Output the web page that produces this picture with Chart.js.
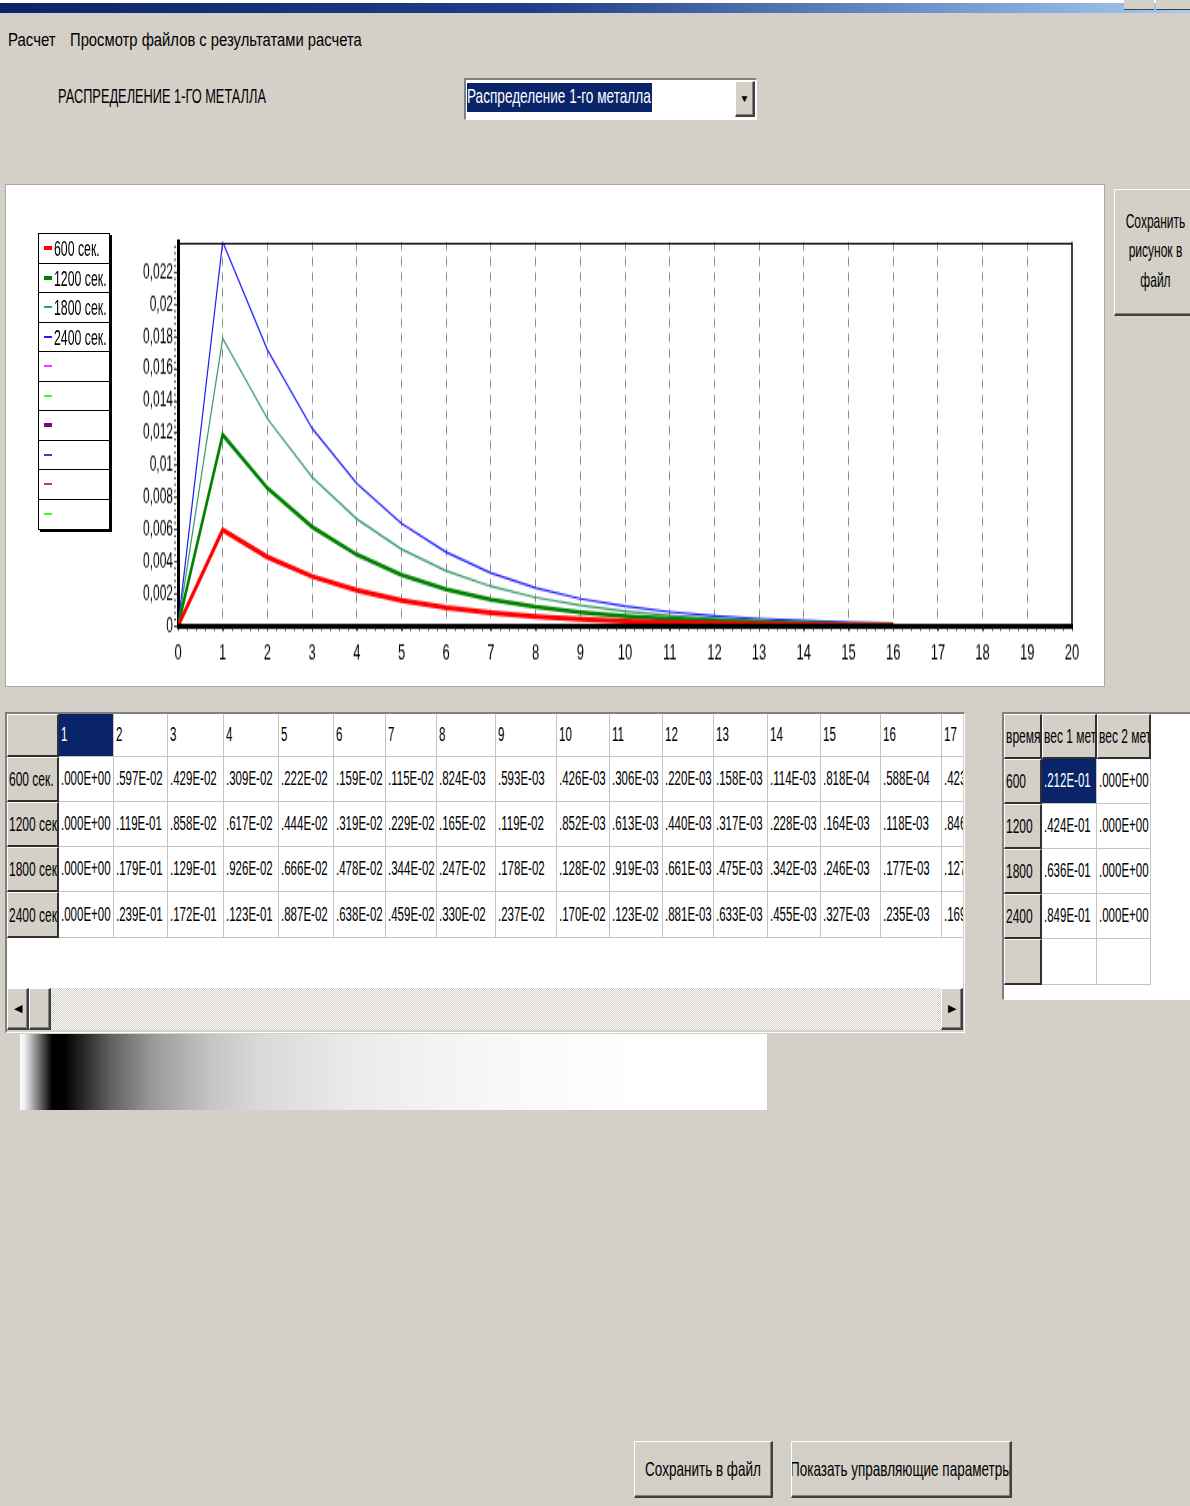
<!DOCTYPE html>
<html lang="ru">
<head>
<meta charset="utf-8">
<title>Распределение 1-го металла</title>
<script src="https://cdn.jsdelivr.net/npm/chart.js@4.4.1/dist/chart.umd.min.js"></script>
<style>
  html, body { margin: 0; padding: 0; }
  body {
    width: 1190px; height: 1506px; position: relative; overflow: hidden;
    background: #D4D0C8; color: #000;
    font-family: "Liberation Sans", Arial, sans-serif;
  }
  .abs { position: absolute; box-sizing: border-box; }
  .txt { position: absolute; white-space: nowrap; height: 20px; line-height: 20px; transform-origin: 0 50%; }
  .btn {
    position: absolute; box-sizing: border-box; background: #D4D0C8; overflow: hidden;
    border-style: solid; border-width: 1px 2px 2px 1px;
    border-color: #fff #404040 #404040 #fff;
    box-shadow: inset -1px -1px #808080;
    display: flex; align-items: center; justify-content: center; white-space: nowrap;
  }
  .sunken {
    position: absolute; box-sizing: border-box;
    border-style: solid; border-width: 2px 1px 1px 2px;
    border-color: #808080 #fff #fff #808080;
  }
  .cell {
    position: absolute; box-sizing: border-box; overflow: hidden; white-space: nowrap;
    background: #fff; border-right: 1px solid #c4c4c4; border-bottom: 1px solid #c4c4c4;
    padding-left: 2px; font-size: 11.5px;
  }
  .cell.fixed {
    background: #D4D0C8; border-style: solid; border-width: 1px 2px 2px 1px;
    border-color: #fff #303030 #303030 #fff; font-size: 12px; padding-left: 1px;
  }
  .cell.sel { background: #0A246A; color: #fff; }
  .cell span { display: inline-block; transform: scaleY(1.75); }
  #legend { left: 38px; top: 233px; width: 72px; background: #fff; border: 1px solid #000; box-shadow: 2px 2px 0 #000; }
  #legend .row { position: relative; height: 29.5px; box-sizing: border-box; border-bottom: 1px solid #000; }
  #legend .row:last-child { border-bottom: none; }
  #legend .sw { position: absolute; left: 5px; width: 8px; }
  #legend .lbl { position: absolute; left: 15px; top: 5px; font-size: 12.3px; line-height: 20px; white-space: nowrap; transform: scaleY(1.75); transform-origin: 0 50%; }
</style>
</head>
<body>

<!-- window caption -->
<div class="abs" style="left:0;top:0;width:1190px;height:3px;background:#fff"></div>
<div class="abs" style="left:0;top:3px;width:1190px;height:10px;background:linear-gradient(to right,#0A246A 0%,#1f3f88 45%,#7fa6d8 85%,#A6CAF0 100%)"></div>
<div class="abs" style="left:1124px;top:0;width:30px;height:10px;background:#D4D0C8;border-bottom:1px solid #404040"></div>
<div class="abs" style="left:1156px;top:0;width:34px;height:10px;background:#D4D0C8;border-bottom:1px solid #404040"></div>

<!-- menu -->
<div class="txt" style="left:8px;top:30px;font-size:15px;transform:scaleY(1.25)">Расчет</div>
<div class="txt" style="left:70px;top:30px;font-size:14.8px;transform:scaleY(1.27)">Просмотр файлов с результатами расчета</div>

<div class="txt" style="left:58px;top:86px;font-size:12.8px;transform:scaleY(1.65)">РАСПРЕДЕЛЕНИЕ 1-ГО МЕТАЛЛА</div>

<!-- combo box -->
<div class="sunken" style="left:464px;top:78px;width:293px;height:42px;background:#fff"></div>
<div class="abs" style="left:467px;top:83px;width:185px;height:29px;background:#0A246A"></div>
<div class="txt" style="left:467px;top:87px;font-size:13.6px;color:#fff;transform:scaleY(1.55)">Распределение 1-го металла</div>
<div class="btn" style="left:735px;top:81px;width:20px;height:36px;font-size:10px">&#9660;</div>

<!-- chart panel -->
<div class="abs" style="left:5px;top:184px;width:1100px;height:503px;background:#fff;border:1px solid #a8a8a8"></div>
<div id="plotBox" class="abs" style="left:6px;top:185px;width:1097px;height:294px;transform:scaleY(1.7007);transform-origin:0 0">
  <canvas id="plot"></canvas>
</div>
<div id="legend" class="abs"></div>

<div class="btn" style="left:1114px;top:189px;width:84px;height:127px;flex-direction:column;font-size:12px;line-height:29.5px">
  <span style="transform:scaleY(1.75)">Сохранить</span>
  <span style="transform:scaleY(1.75)">рисунок в</span>
  <span style="transform:scaleY(1.75)">файл</span>
</div>

<!-- result table -->
<div class="sunken" style="left:5px;top:712px;width:960px;height:321px;background:#D4D0C8"></div>
<div id="grid1" class="abs" style="left:7px;top:714px;width:956px;height:274px;overflow:hidden;background:#fff"></div>
<div class="abs" style="left:7px;top:988px;width:956px;height:42px;background:repeating-conic-gradient(#fff 0 25%,#D4D0C8 0 50%) 0 0/2px 2px"></div>
<div class="btn" style="left:7px;top:988px;width:22px;height:42px;font-size:11px">&#9664;</div>
<div class="btn" style="left:29px;top:988px;width:22px;height:42px"></div>
<div class="btn" style="left:941px;top:988px;width:22px;height:42px;font-size:11px">&#9654;</div>

<!-- weight table -->
<div class="sunken" style="left:1002px;top:712px;width:192px;height:288px;background:#fff"></div>
<div id="grid2" class="abs" style="left:1004px;top:714px;width:186px;height:284px;overflow:hidden"></div>

<!-- colour strip -->
<div class="abs" style="left:20px;top:1034px;width:747px;height:76px;background:linear-gradient(to right,#fff 0px,#eee 5px,#000 32px,#000 44px,#606060 90px,#9a9a9a 133px,#c4c4c4 190px,#d9d9d9 240px,#eaeaea 330px,#f4f4f4 430px,#fbfbfb 530px,#fff 620px)"></div>

<!-- bottom buttons -->
<div class="btn" style="left:634px;top:1441px;width:139px;height:57px;font-size:13.5px"><span style="transform:scaleY(1.53)">Сохранить в файл</span></div>
<div class="btn" style="left:791px;top:1441px;width:221px;height:57px;font-size:13.5px"><span style="transform:scaleY(1.53)">Показать управляющие параметры</span></div>

<script>
// grid points shown in the table (chart x = point - 1)
const points = [1, 2, 3, 4, 5, 6, 7, 8, 9, 10, 11, 12, 13, 14, 15, 16, 17];
const times = [600, 1200, 1800, 2400];
const seriesNames = ['600 сек.', '1200 сек.', '1800 сек.', '2400 сек.'];

// concentration of metal 1 at each grid point
const conc600 = [0, 0.00597, 0.00429, 0.00309, 0.00222, 0.00159, 0.00115, 0.000824, 0.000593,
  0.000426, 0.000306, 0.000220, 0.000158, 0.000114, 0.0000818, 0.0000588, 0.0000423];
const conc1200 = [0, 0.0119, 0.00858, 0.00617, 0.00444, 0.00319, 0.00229, 0.00165, 0.00119,
  0.000852, 0.000613, 0.000440, 0.000317, 0.000228, 0.000164, 0.000118, 0.0000846];
const conc1800 = [0, 0.0179, 0.0129, 0.00926, 0.00666, 0.00478, 0.00344, 0.00247, 0.00178,
  0.00128, 0.000919, 0.000661, 0.000475, 0.000342, 0.000246, 0.000177, 0.000127];
const conc2400 = [0, 0.0239, 0.0172, 0.0123, 0.00887, 0.00638, 0.00459, 0.00330, 0.00237,
  0.00170, 0.00123, 0.000881, 0.000633, 0.000455, 0.000327, 0.000235, 0.000169];

// total weight of each metal
const weightHeaders = ['время', 'вес 1 металла', 'вес 2 металла'];
const weight1 = [0.0212, 0.0424, 0.0636, 0.0849];
const weight2 = [0, 0, 0, 0];

const xMin = 0, xMax = 20;
const yMin = 0, yMax = 0.0239, yStep = 0.002;

// legend slots (the last six are unused series)
const legendNames = seriesNames.concat(['', '', '', '', '', '']);
const lineColors = ['#ff0000', '#008000', '#339966', '#1a1aff', '#ff33ff', '#33ff33', '#800080', '#4040a0', '#b04848', '#33ff33'];
const lineWidths = [3, 2.6, 1.2, 1.2, 1, 1, 2, 1, 1, 1];

const allSeries = [conc600, conc1200, conc1800, conc2400];

// fortran-like .dddE+xx
function fmtE(v) {
  if (v === 0) return '.000E+00';
  let e = Math.floor(Math.log10(v)) + 1;
  let m = Math.round(v / Math.pow(10, e) * 1000);
  if (m >= 1000) { m = 100; e += 1; }
  return '.' + String(m).padStart(3, '0') + 'E' + (e < 0 ? '-' : '+') + String(Math.abs(e)).padStart(2, '0');
}

// legend
const legend = document.getElementById('legend');
legendNames.forEach((name, i) => {
  const row = document.createElement('div');
  row.className = 'row';
  const sw = document.createElement('div');
  sw.className = 'sw';
  const h = lineWidths[i] >= 2 ? 4 : 2;
  sw.style.height = h + 'px';
  sw.style.top = (14 - h / 2) + 'px';
  sw.style.background = lineColors[i];
  row.appendChild(sw);
  if (name) {
    const lbl = document.createElement('div');
    lbl.className = 'lbl';
    lbl.textContent = name;
    row.appendChild(lbl);
  }
  legend.appendChild(row);
});

// simple string grid
function buildGrid(host, colW, rowH, textAt, kindAt) {
  let y = 0;
  rowH.forEach((h, r) => {
    let x = 0;
    colW.forEach((w, c) => {
      const cell = document.createElement('div');
      cell.className = 'cell ' + kindAt(r, c);
      cell.style.left = x + 'px';
      cell.style.top = y + 'px';
      cell.style.width = w + 'px';
      cell.style.height = h + 'px';
      cell.style.lineHeight = (h - 2) + 'px';
      const s = document.createElement('span');
      s.textContent = textAt(r, c);
      cell.appendChild(s);
      host.appendChild(cell);
      x += w;
    });
    y += h;
  });
}

buildGrid(document.getElementById('grid1'),
  [52, 55, 54, 56, 55, 55, 52, 51, 59, 61, 53, 53, 51, 54, 53, 60, 61, 58],
  [43, 45, 45, 45, 46],
  (r, c) => {
    if (r === 0) return c === 0 ? '' : String(points[c - 1]);
    if (c === 0) return seriesNames[r - 1];
    return fmtE(allSeries[r - 1][c - 1]);
  },
  (r, c) => (c === 0 ? 'fixed' : (r === 0 && c === 1 ? 'sel' : '')));

buildGrid(document.getElementById('grid2'),
  [38, 55, 54],
  [45, 45, 45, 45, 45, 46],
  (r, c) => {
    if (r === 0) return weightHeaders[c];
    if (r > times.length) return '';
    if (c === 0) return String(times[r - 1]);
    return fmtE((c === 1 ? weight1 : weight2)[r - 1]);
  },
  (r, c) => (r === 0 || c === 0 ? 'fixed' : (r === 1 && c === 1 ? 'sel' : '')));

// frame, zero line on top of the curves and minor ticks
const framePlugin = {
  id: 'frame',
  afterDatasetsDraw(chart) {
    const { ctx, chartArea: a, scales: { x, y } } = chart;
    ctx.save();
    ctx.strokeStyle = '#000';
    ctx.lineWidth = 1;
    ctx.beginPath();
    ctx.moveTo(a.left, Math.round(a.top) + 0.5);
    ctx.lineTo(a.right, Math.round(a.top) + 0.5);
    ctx.stroke();
    ctx.lineWidth = 1.5;
    ctx.beginPath();
    ctx.moveTo(a.right, a.top);
    ctx.lineTo(a.right, a.bottom);
    ctx.stroke();

    const y0 = y.getPixelForValue(0);
    ctx.lineWidth = 2.6;
    ctx.beginPath();
    ctx.moveTo(a.left, y0);
    ctx.lineTo(a.right, y0);
    ctx.stroke();

    ctx.strokeStyle = '#444';
    ctx.lineWidth = 1;
    for (let i = 1; i < (xMax - xMin) * 5; i++) {
      const px = Math.round(x.getPixelForValue(xMin + i / 5)) + 0.5;
      ctx.beginPath();
      ctx.moveTo(px, y0 + 1);
      ctx.lineTo(px, y0 + 3);
      ctx.stroke();
    }
    for (let v = 0.0004; v < yMax; v += 0.0004) {
      const py = y.getPixelForValue(v);
      ctx.beginPath();
      ctx.moveTo(a.left - 4, py);
      ctx.lineTo(a.left - 2, py);
      ctx.stroke();
    }
    ctx.restore();
  }
};

const xs = points.map(p => p - 1);

new Chart(document.getElementById('plot'), {
  type: 'line',
  data: {
    datasets: allSeries.map((vals, i) => ({
      label: seriesNames[i],
      data: vals.map((v, j) => ({ x: xs[j], y: v })),
      borderColor: lineColors[i],
      borderWidth: lineWidths[i],
      pointRadius: 0,
      tension: 0,
      fill: false
    }))
  },
  options: {
    responsive: true,
    maintainAspectRatio: false,
    animation: false,
    layout: { padding: { top: 33.5, right: 31, left: 0, bottom: 0 } },
    plugins: { legend: { display: false }, tooltip: { enabled: false } },
    scales: {
      x: {
        type: 'linear', min: xMin, max: xMax,
        ticks: {
          stepSize: 1, autoSkip: false, maxRotation: 0, padding: 5,
          color: '#000', font: { family: 'Liberation Sans, Arial, sans-serif', size: 13 }
        },
        grid: {
          drawTicks: true, tickLength: 3, tickColor: '#444',
          color: c => (c.tick && (c.tick.value === xMin || c.tick.value === xMax)) ? 'rgba(0,0,0,0)' : '#8a8a8a',
          lineWidth: 1
        },
        border: { display: true, color: '#000', width: 3, dash: [5, 4] },
        afterFit: s => { s.height = 34.7; }
      },
      y: {
        min: yMin, max: yMax,
        ticks: {
          stepSize: yStep, includeBounds: false, padding: 1,
          color: '#000', font: { family: 'Liberation Sans, Arial, sans-serif', size: 12 },
          callback: v => String(+v.toFixed(4)).replace('.', ',')
        },
        grid: { drawOnChartArea: false, drawTicks: true, tickLength: 4, tickColor: '#444' },
        border: { display: true, color: '#000', width: 3 },
        afterFit: s => { s.width = 172; }
      }
    }
  },
  plugins: [framePlugin]
});
</script>
</body>
</html>
